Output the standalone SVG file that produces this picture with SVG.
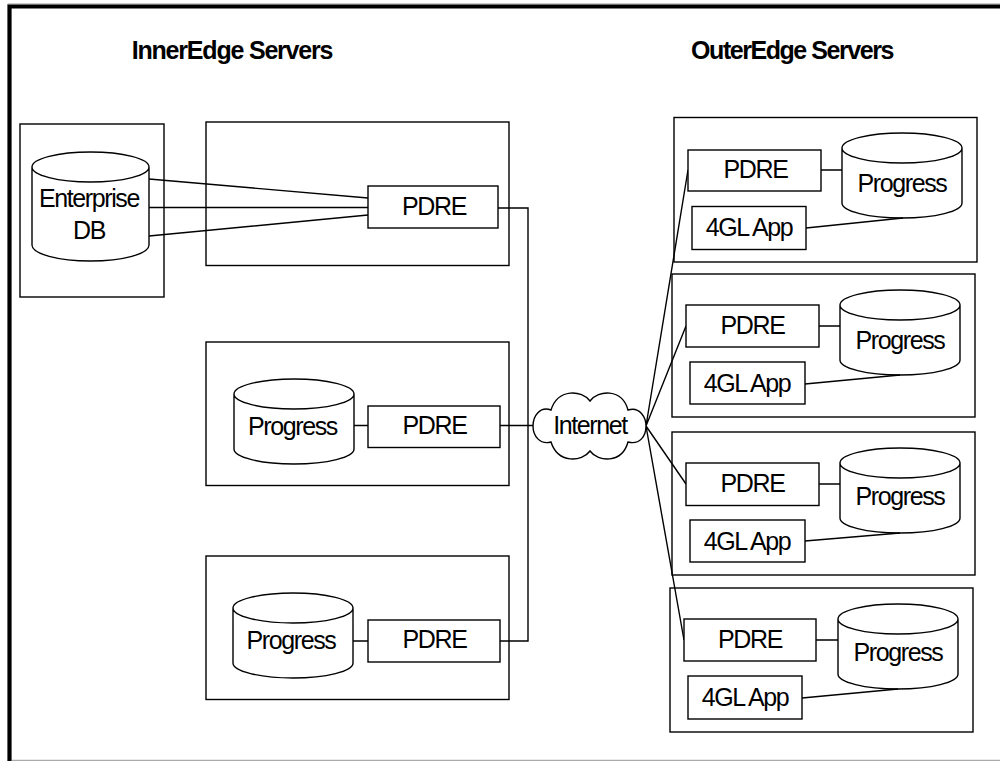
<svg xmlns="http://www.w3.org/2000/svg" width="1000" height="761" viewBox="0 0 1000 761">
<style>
.s{fill:#fff;stroke:#000;stroke-width:1.4}
.l{fill:none;stroke:#000;stroke-width:1.4}
text{font-family:"Liberation Sans",Arial,sans-serif;font-size:25px;fill:#000;text-anchor:middle;letter-spacing:-1.4px}
.h{font-weight:bold;font-size:25px;letter-spacing:-1.2px}
.o{letter-spacing:-1.45px}
</style>
<defs>
<path id="cyl" class="s" d="M-60 0V55A60 15 0 0 0 60 55V0A60 15 0 0 0-60 0A60 15 0 0 0 60 0"/>
</defs>
<rect width="1000" height="761" fill="#fff"/>
<g id="frame">
<path d="M9.500 761V6.300H1000" fill="none" stroke="#000" stroke-width="4.200"/>
<path d="M8 4H1000" fill="none" stroke="#999" stroke-width="1"/>
<path d="M12 760.500H1000" fill="none" stroke="#aaa" stroke-width="1.500"/>
</g>
<g id="titles">
<text class="h" x="232" y="59">InnerEdge Servers</text>
<text class="h o" x="792" y="59">OuterEdge Servers</text>
</g>
<g id="server-db"><rect class="s" x="20" y="124" width="144" height="173"/></g>
<g id="server-1"><rect class="s" x="206" y="122" width="303" height="143.500"/></g>
<g id="server-2"><rect class="s" x="206" y="342" width="303" height="143.500"/></g>
<g id="server-3"><rect class="s" x="206" y="556" width="303" height="143.500"/></g>
<g id="server-a"><rect class="s" x="674" y="117.500" width="303" height="144.500"/></g>
<g id="server-b"><rect class="s" x="672" y="274" width="303" height="143"/></g>
<g id="server-c"><rect class="s" x="672" y="432" width="303" height="143"/></g>
<g id="server-d"><rect class="s" x="670" y="588" width="303" height="144"/></g>
<g id="enterprise-db">
<path class="s" d="M32 167V245A58.500 16 0 0 0 149 245V167A58.500 15 0 0 0 32 167A58.500 15 0 0 0 149 167"/>
<text x="89" y="207">Enterprise</text><text x="89" y="239">DB</text>
</g>
<g id="progress-2"><use href="#cyl" transform="translate(294 394)"/><text x="292.500" y="435">Progress</text></g>
<g id="progress-3"><use href="#cyl" transform="translate(293 608)"/><text x="291" y="649">Progress</text></g>
<g id="progress-a"><use href="#cyl" transform="translate(902 148)"/><text x="902" y="192">Progress</text></g>
<g id="progress-b"><use href="#cyl" transform="translate(900 305)"/><text x="900" y="349">Progress</text></g>
<g id="progress-c"><use href="#cyl" transform="translate(900 463)"/><text x="900" y="505">Progress</text></g>
<g id="progress-d"><use href="#cyl" transform="translate(898 619)"/><text x="898" y="661">Progress</text></g>
<g id="connectors">
<path class="l" d="M149 179L368 198M149 207.500H368M149 236L368 215"/>
<path class="l" d="M498 208H528V641H500"/>
<path class="l" d="M500 425.500H534"/>
<path class="l" d="M354 425.500H368M353 641H368"/>
<path class="l" d="M646 426L688 170M646 426L686 326M646 426L686 484M646 426L684 640"/>
<path class="l" d="M821 170H842M806 228L903 218"/>
<path class="l" d="M819 326H840M805 384L900 375"/>
<path class="l" d="M819 484H840M805 541L900 533"/>
<path class="l" d="M816 640H838M802 698L898 689"/>
</g>
<g id="pdre-1"><rect class="s" x="368" y="186" width="130" height="42"/><text x="434" y="215">PDRE</text></g>
<g id="pdre-2"><rect class="s" x="368" y="406" width="132" height="41.500"/><text x="434.500" y="434">PDRE</text></g>
<g id="pdre-3"><rect class="s" x="368" y="620" width="132" height="42"/><text x="434.500" y="648">PDRE</text></g>
<g id="internet">
<path class="s" d="M551 410C558 388 582 390 590 401C598 390 622 388 628 410C640 406 646 418 646 426C646 436 640 445 628 442C622 464 598 462 590 451C582 462 558 464 551 442C540 445 533 436 533 426C533 416 540 406 551 410Z"/>
<text x="590" y="434">Internet</text>
</g>
<g id="pdre-a"><rect class="s" x="688" y="150" width="133" height="41"/><text x="755.500" y="178">PDRE</text></g>
<g id="app-a"><rect class="s" x="692" y="206.500" width="114" height="43"/><text x="749" y="236">4GL App</text></g>
<g id="pdre-b"><rect class="s" x="686" y="305" width="133" height="42"/><text x="752.500" y="334">PDRE</text></g>
<g id="app-b"><rect class="s" x="690" y="362" width="115" height="42"/><text x="747" y="392">4GL App</text></g>
<g id="pdre-c"><rect class="s" x="686" y="463" width="133" height="42.500"/><text x="752.500" y="492">PDRE</text></g>
<g id="app-c"><rect class="s" x="690" y="520" width="115" height="42"/><text x="747" y="550">4GL App</text></g>
<g id="pdre-d"><rect class="s" x="684" y="619" width="132" height="42"/><text x="750" y="648">PDRE</text></g>
<g id="app-d"><rect class="s" x="688" y="676" width="114" height="43"/><text x="745" y="706">4GL App</text></g>
</svg>
